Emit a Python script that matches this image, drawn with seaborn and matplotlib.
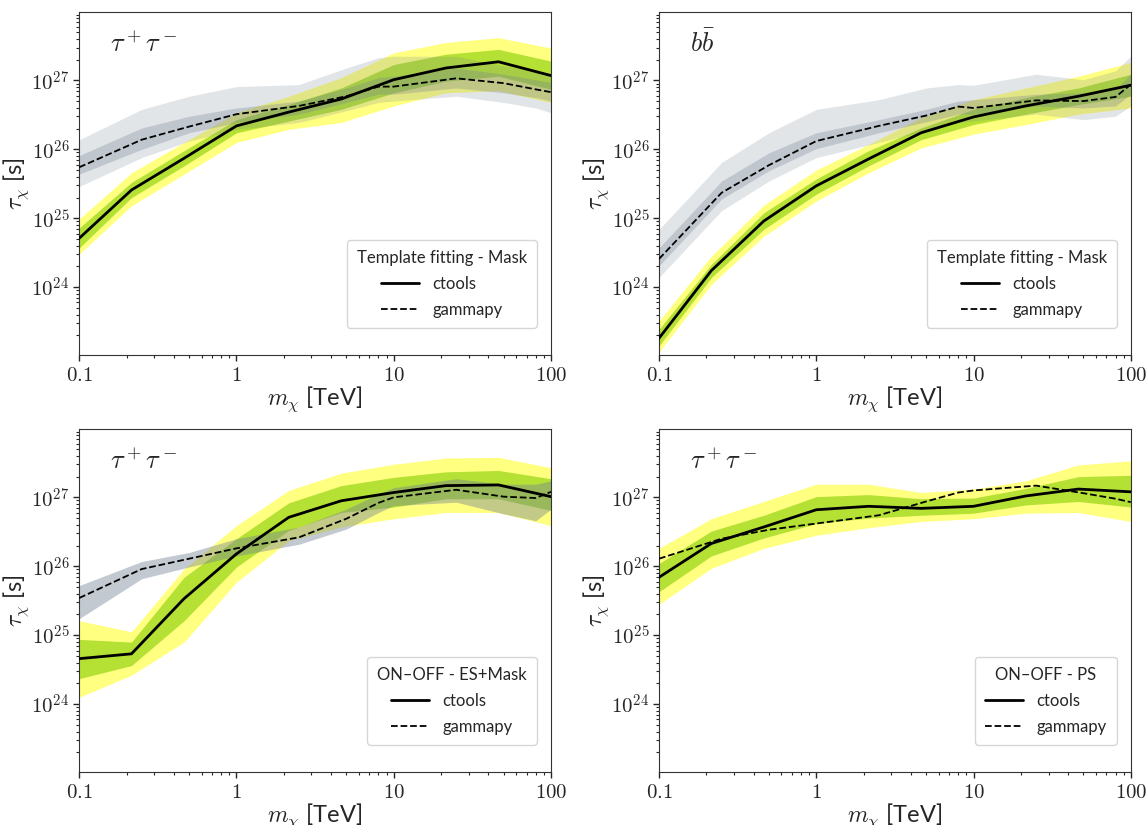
import matplotlib

matplotlib.use('Agg')
import matplotlib.pyplot as plt
import matplotlib.ticker as mticker
import numpy as np
import seaborn as sns

# dark matter masses [TeV]
m_ctools = [0.1, 0.215, 0.464, 1, 2.15, 4.64, 10, 21.5, 46.4, 100]
m_gammapy = [0.1, 0.25, 0.5, 1, 2.5, 5, 8, 10, 25, 50, 80, 100]

# log10(tau / s)
# --- panel 1: template fitting, tau+tau-
tt_tf_ct = [24.71, 25.41, 25.87, 26.34, 26.54, 26.73, 27.01, 27.18, 27.27, 27.07]
tt_tf_ct_y_hi = [24.99, 25.66, 26.10, 26.53, 26.77, 27.04, 27.40, 27.55, 27.62, 27.47]
tt_tf_ct_g_hi = [24.86, 25.52, 25.98, 26.43, 26.65, 26.89, 27.23, 27.38, 27.45, 27.28]
tt_tf_ct_g_lo = [24.57, 25.30, 25.76, 26.24, 26.41, 26.58, 26.82, 26.99, 27.06, 26.87]
tt_tf_ct_y_lo = [24.48, 25.18, 25.64, 26.10, 26.29, 26.39, 26.63, 26.82, 26.85, 26.68]
tt_tf_gp = [25.74, 26.14, 26.33, 26.51, 26.63, 26.77, 26.91, 26.91, 27.03, 26.96, 26.87, 26.83]
tt_tf_gp_d_hi = [25.91, 26.31, 26.48, 26.60, 26.70, 26.89, 27.04, 27.06, 27.18, 27.09, 27.01, 26.97]
tt_tf_gp_d_lo = [25.64, 26.00, 26.24, 26.39, 26.51, 26.68, 26.80, 26.80, 26.89, 26.82, 26.75, 26.70]
tt_tf_gp_l_hi = [26.14, 26.58, 26.77, 26.91, 26.94, 27.18, 27.33, 27.35, 27.35, 27.21, 27.14, 27.09]
tt_tf_gp_l_lo = [25.46, 25.88, 26.12, 26.29, 26.39, 26.56, 26.68, 26.70, 26.77, 26.68, 26.60, 26.53]

# --- panel 2: template fitting, b bbar
bb_tf_ct = [23.26, 24.24, 24.96, 25.47, 25.86, 26.24, 26.47, 26.63, 26.77, 26.93]
bb_tf_ct_y_hi = [23.51, 24.45, 25.19, 25.70, 26.07, 26.46, 26.72, 26.89, 27.06, 27.26]
bb_tf_ct_g_hi = [23.39, 24.33, 25.08, 25.57, 25.98, 26.31, 26.58, 26.75, 26.89, 27.09]
bb_tf_ct_g_lo = [23.15, 24.14, 24.84, 25.35, 25.76, 26.14, 26.36, 26.51, 26.65, 26.77]
bb_tf_ct_y_lo = [23.06, 24.04, 24.74, 25.25, 25.66, 26.02, 26.22, 26.36, 26.51, 26.60]
bb_tf_gp = [24.41, 25.37, 25.77, 26.12, 26.34, 26.49, 26.62, 26.60, 26.71, 26.70, 26.76, 26.94]
bb_tf_gp_d_hi = [24.57, 25.54, 25.95, 26.24, 26.43, 26.58, 26.70, 26.72, 26.80, 26.82, 26.87, 27.09]
bb_tf_gp_d_lo = [24.31, 25.28, 25.69, 26.01, 26.24, 26.40, 26.51, 26.51, 26.63, 26.60, 26.63, 26.80]
bb_tf_gp_l_hi = [24.84, 25.81, 26.24, 26.58, 26.72, 26.89, 26.94, 26.93, 27.09, 27.01, 27.14, 27.35]
bb_tf_gp_l_lo = [24.14, 25.11, 25.54, 25.88, 26.10, 26.27, 26.39, 26.41, 26.51, 26.43, 26.48, 26.63]

# --- panel 3: ON-OFF ES+Mask, tau+tau-
tt_es_ct = [24.66, 24.73, 25.53, 26.18, 26.71, 26.95, 27.07, 27.17, 27.18, 27.01]
tt_es_ct_y_hi = [25.21, 25.05, 25.96, 26.59, 27.10, 27.35, 27.48, 27.57, 27.58, 27.43]
tt_es_ct_g_hi = [24.94, 24.90, 25.84, 26.40, 26.92, 27.17, 27.29, 27.37, 27.39, 27.27]
tt_es_ct_g_lo = [24.37, 24.56, 25.21, 25.99, 26.52, 26.78, 26.86, 26.98, 26.98, 26.81]
tt_es_ct_y_lo = [24.10, 24.42, 24.90, 25.77, 26.37, 26.57, 26.69, 26.78, 26.78, 26.59]
tt_es_gp = [25.54, 25.96, 26.11, 26.26, 26.42, 26.69, 26.92, 27.00, 27.11, 27.01, 26.99, 27.08]
tt_es_gp_hi = [25.72, 26.07, 26.20, 26.40, 26.57, 26.83, 27.05, 27.14, 27.27, 27.19, 27.19, 27.24]
tt_es_gp_lo = [25.24, 25.82, 25.99, 26.15, 26.32, 26.54, 26.78, 26.88, 26.93, 26.76, 26.66, 26.83]

# --- panel 4: ON-OFF PS, tau+tau-
tt_ps_ct = [25.84, 26.33, 26.57, 26.82, 26.87, 26.84, 26.87, 27.02, 27.12, 27.08]
tt_ps_ct_y_hi = [26.26, 26.69, 26.94, 27.19, 27.19, 27.07, 27.12, 27.24, 27.47, 27.53]
tt_ps_ct_g_hi = [26.04, 26.51, 26.74, 27.01, 27.04, 26.98, 26.99, 27.13, 27.30, 27.32]
tt_ps_ct_g_lo = [25.63, 26.15, 26.41, 26.62, 26.70, 26.74, 26.77, 26.89, 26.94, 26.86]
tt_ps_ct_y_lo = [25.45, 25.97, 26.26, 26.45, 26.56, 26.65, 26.69, 26.77, 26.78, 26.65]
tt_ps_gp = [26.11, 26.40, 26.53, 26.62, 26.74, 26.94, 27.07, 27.10, 27.17, 27.06, 26.98, 26.93]

panels = [
    dict(chan=r'$\tau^+\tau^-$', title='Template fitting - Mask',
         ct=tt_tf_ct, ct_band=[(tt_tf_ct_y_lo, tt_tf_ct_y_hi), (tt_tf_ct_g_lo, tt_tf_ct_g_hi)],
         gp=tt_tf_gp, gp_band=[(tt_tf_gp_l_lo, tt_tf_gp_l_hi, 0.2), (tt_tf_gp_d_lo, tt_tf_gp_d_hi, 0.3)]),
    dict(chan=r'$b\bar{b}$', title='Template fitting - Mask',
         ct=bb_tf_ct, ct_band=[(bb_tf_ct_y_lo, bb_tf_ct_y_hi), (bb_tf_ct_g_lo, bb_tf_ct_g_hi)],
         gp=bb_tf_gp, gp_band=[(bb_tf_gp_l_lo, bb_tf_gp_l_hi, 0.2), (bb_tf_gp_d_lo, bb_tf_gp_d_hi, 0.3)]),
    dict(chan=r'$\tau^+\tau^-$', title='ON\u2013OFF - ES+Mask',
         ct=tt_es_ct, ct_band=[(tt_es_ct_y_lo, tt_es_ct_y_hi), (tt_es_ct_g_lo, tt_es_ct_g_hi)],
         gp=tt_es_gp, gp_band=[(tt_es_gp_lo, tt_es_gp_hi, 0.42)]),
    dict(chan=r'$\tau^+\tau^-$', title='ON\u2013OFF - PS',
         ct=tt_ps_ct, ct_band=[(tt_ps_ct_y_lo, tt_ps_ct_y_hi), (tt_ps_ct_g_lo, tt_ps_ct_g_hi)],
         gp=tt_ps_gp, gp_band=[]),
]

sns.set_style('ticks')
plt.rcParams['font.family'] = ['Lato', 'DejaVu Sans']
plt.rcParams['mathtext.fontset'] = 'cm'

band_colors = ['#ffff80', '#b5e135']

fig, axes = plt.subplots(2, 2, figsize=(11.48, 8.25), dpi=100)
plt.subplots_adjust(left=0.069, right=0.985, top=0.985, bottom=0.064, wspace=0.229, hspace=0.216)

for ax, p in zip(axes.flat, panels):
    ax.set_xscale('log')
    ax.set_yscale('log')

    for (lo, hi), c in zip(p['ct_band'], band_colors):
        ax.fill_between(m_ctools, 10 ** np.array(lo), 10 ** np.array(hi), color=c, lw=0, zorder=1)
    for lo, hi, a in p['gp_band']:
        ax.fill_between(m_gammapy, 10 ** np.array(lo), 10 ** np.array(hi), color='slategray', alpha=a, lw=0, zorder=2)

    sns.lineplot(x=m_ctools, y=10 ** np.array(p['ct']), ax=ax, color='k', lw=2, label='ctools', zorder=3)
    sns.lineplot(x=m_gammapy, y=10 ** np.array(p['gp']), ax=ax, color='k', lw=1.3, ls='--', label='gammapy', zorder=3)

    ax.set_xlim(0.1, 100)
    ax.set_ylim(1.03e23, 9.7e27)
    ax.xaxis.set_major_formatter(mticker.FuncFormatter(lambda v, pos: r'$%g$' % v))
    ax.yaxis.set_major_formatter(mticker.FuncFormatter(lambda v, pos: r'$10^{%d}$' % round(np.log10(v))))
    ax.yaxis.set_minor_locator(mticker.LogLocator(base=10, subs=np.arange(2, 10), numticks=20))
    ax.yaxis.set_minor_formatter(mticker.NullFormatter())
    ax.tick_params(which='major', labelsize=15, length=4, width=1, pad=3)
    ax.tick_params(which='minor', length=2, width=0.8)
    for s in ax.spines.values():
        s.set_color('#333333')

    ax.set_xlabel(r'$m_\chi$ [TeV]', fontsize=17, labelpad=0)
    ax.set_ylabel(r'$\tau_\chi$ [s]', fontsize=17, labelpad=0)
    ax.text(0.065, 0.885, p['chan'], transform=ax.transAxes, fontsize=19)

    leg = ax.legend(title=p['title'], loc='lower right', bbox_to_anchor=(0.97, 0.08), borderaxespad=0,
                    fontsize=12, title_fontsize=12, handlelength=2.3, borderpad=0.6, labelspacing=0.6)
    leg.get_frame().set_edgecolor('#cccccc')

plt.savefig('out.png', dpi=100)
plt.close()
